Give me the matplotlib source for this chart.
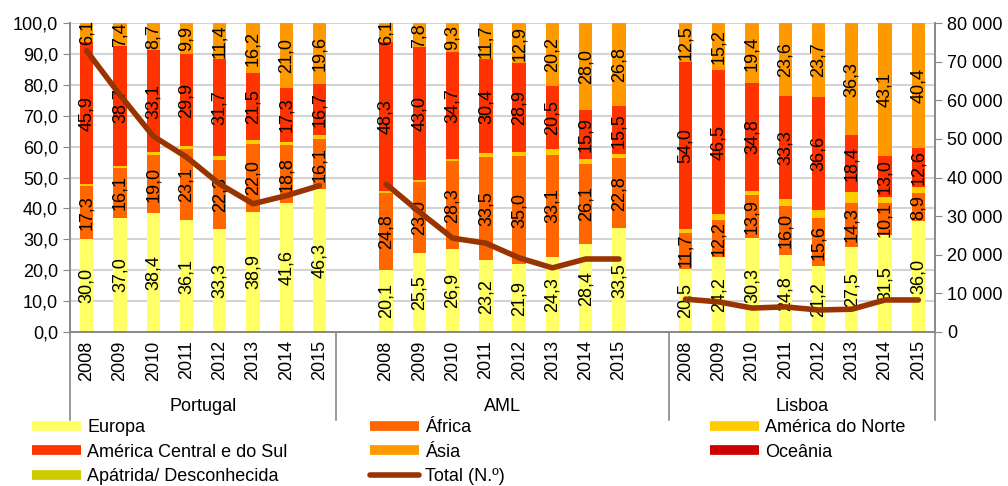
import matplotlib
matplotlib.use("Agg")
import matplotlib.pyplot as plt
from matplotlib.lines import Line2D
from matplotlib.ticker import FuncFormatter, MultipleLocator
import numpy as np

plt.rcParams['font.family'] = ['Liberation Sans', 'DejaVu Sans']

groups = ['Portugal', 'AML', 'Lisboa']
years = ['2008', '2009', '2010', '2011', '2012', '2013', '2014', '2015']

# Percentages per group (8 years each)
europa = {
    'Portugal': [30.0, 37.0, 38.4, 36.1, 33.3, 38.9, 41.6, 46.3],
    'AML':      [20.1, 25.5, 26.9, 23.2, 21.9, 24.3, 28.4, 33.5],
    'Lisboa':   [20.5, 24.2, 30.3, 24.8, 21.2, 27.5, 31.5, 36.0],
}
africa = {
    'Portugal': [17.3, 16.1, 19.0, 23.1, 22.3, 22.0, 18.8, 16.1],
    'AML':      [24.8, 23.0, 28.3, 33.5, 35.0, 33.1, 26.1, 22.8],
    'Lisboa':   [11.7, 12.2, 13.9, 16.0, 15.6, 14.3, 10.1, 8.9],
}
america_norte = {
    'Portugal': [0.6, 0.7, 0.7, 0.9, 1.2, 1.3, 1.2, 1.2],
    'AML':      [0.6, 0.6, 0.7, 1.1, 1.2, 1.8, 1.5, 1.3],
    'Lisboa':   [1.2, 1.8, 1.5, 2.2, 2.8, 3.4, 2.2, 2.0],
}
america_cs = {
    'Portugal': [45.9, 38.7, 33.1, 29.9, 31.7, 21.5, 17.3, 16.7],
    'AML':      [48.3, 43.0, 34.7, 30.4, 28.9, 20.5, 15.9, 15.5],
    'Lisboa':   [54.0, 46.5, 34.8, 33.3, 36.6, 18.4, 13.0, 12.6],
}
asia = {
    'Portugal': [6.1, 7.4, 8.7, 9.9, 11.4, 16.2, 21.0, 19.6],
    'AML':      [6.1, 7.8, 9.3, 11.7, 12.9, 20.2, 28.0, 26.8],
    'Lisboa':   [12.5, 15.2, 19.4, 23.6, 23.7, 36.3, 43.1, 40.4],
}
oceania = {
    'Portugal': [0.1, 0.1, 0.1, 0.1, 0.1, 0.1, 0.1, 0.1],
    'AML':      [0.1, 0.1, 0.1, 0.1, 0.1, 0.1, 0.1, 0.1],
    'Lisboa':   [0.1, 0.1, 0.1, 0.1, 0.1, 0.1, 0.1, 0.1],
}
apatrida = {
    'Portugal': [0.0, 0.0, 0.0, 0.0, 0.0, 0.0, 0.0, 0.0],
    'AML':      [0.0, 0.0, 0.0, 0.0, 0.0, 0.0, 0.0, 0.0],
    'Lisboa':   [0.0, 0.0, 0.0, 0.0, 0.0, 0.0, 0.0, 0.0],
}
total = {
    'Portugal': [72800, 61400, 50700, 45300, 38300, 33200, 35300, 37900],
    'AML':      [38300, 31100, 24300, 23000, 19200, 16600, 18900, 18900],
    'Lisboa':   [8500, 7800, 6200, 6500, 5700, 5900, 8300, 8300],
}

series = [
    ('Europa', europa, '#FFFF66', True),
    ('África', africa, '#FF6600', True),
    ('América do Norte', america_norte, '#FFCC00', False),
    ('América Central e do Sul', america_cs, '#FF3300', True),
    ('Ásia', asia, '#FF9900', True),
    ('Oceânia', oceania, '#CC0000', False),
    ('Apátrida/ Desconhecida', apatrida, '#CCCC00', False),
]
line_color = '#993300'

# layout: slot positions of each group's bars
group_start = {'Portugal': 0, 'AML': 9, 'Lisboa': 18}
group_center = {'Portugal': 3.5, 'AML': 12.5, 'Lisboa': 21.5}
separators = [-0.5, 7.5, 17.5, 25.5]

fig = plt.figure(figsize=(10.08, 4.86), dpi=100)
ax = fig.add_axes([70/1008, 1-332/486, 865/1008, 309/486])
ax2 = ax.twinx()

FS = 13
width = 0.4
for g in groups:
    x = np.arange(8) + group_start[g]
    bottom = np.zeros(8)
    for name, d, col, lab in series:
        vals = np.array(d[g])
        ax.bar(x, vals, width, bottom=bottom, color=col, zorder=2, linewidth=0)
        if lab:
            for xi, b, v in zip(x, bottom, vals):
                ax.text(xi, b + v/2, f"{v:.1f}".replace('.', ','), rotation=90,
                        ha='center', va='center', fontsize=FS, zorder=3)
        bottom += vals
    ax2.plot(x, total[g], color=line_color, lw=4, solid_capstyle='round', zorder=4)

ax.set_xlim(-0.5, 25.5)
ax.set_ylim(0, 100)
ax2.set_ylim(0, 80000)
ax.yaxis.set_major_locator(MultipleLocator(10))
ax2.yaxis.set_major_locator(MultipleLocator(10000))
ax.yaxis.set_major_formatter(FuncFormatter(lambda v, p: f"{v:.1f}".replace('.', ',')))
ax2.yaxis.set_major_formatter(FuncFormatter(lambda v, p: f"{int(v):,}".replace(',', ' ')))
ax.grid(axis='y', color='#D4D4D4', lw=1.5, zorder=0)
ax.set_axisbelow(True)

xt = []
xl = []
for g in groups:
    for i, y in enumerate(years):
        xt.append(group_start[g] + i)
        xl.append(y)
ax.set_xticks(xt)
ax.set_xticklabels(xl, rotation=90, fontsize=FS)
ax.tick_params(axis='x', length=0, pad=6)
ax.tick_params(axis='y', labelsize=FS, length=5, color='#888888', direction='out')
ax2.tick_params(axis='y', labelsize=FS, length=5, color='#888888', direction='out')

for a in (ax, ax2):
    a.spines['top'].set_visible(False)
    for s in ('left', 'right', 'bottom'):
        a.spines[s].set_color('#888888')
        a.spines[s].set_linewidth(1.2)

for s in separators:
    ax.plot([s, s], [0, -0.285], transform=ax.get_xaxis_transform(), color='#888888',
            lw=1.2, clip_on=False)
for g in groups:
    ax.text(group_center[g], -0.24, g, transform=ax.get_xaxis_transform(),
            ha='center', va='center', fontsize=FS)

# legend in three fixed columns
def h(col, total_line=False):
    if total_line:
        return Line2D([0], [0], color=col, lw=4, solid_capstyle='round')
    return Line2D([0], [0], color=col, lw=7, solid_capstyle='butt')

cols = [
    [(series[0][0], h(series[0][2])), (series[3][0], h(series[3][2])), (series[6][0], h(series[6][2]))],
    [(series[1][0], h(series[1][2])), (series[4][0], h(series[4][2])), ('Total (N.º)', h(line_color, True))],
    [(series[2][0], h(series[2][2])), (series[5][0], h(series[5][2]))],
]
xs = [32/1008, 370/1008, 710/1008]
for x0, c in zip(xs, cols):
    fig.legend([e[1] for e in c], [e[0] for e in c], loc='upper left',
               bbox_to_anchor=(x0, 1-419/486), frameon=False, fontsize=FS,
               handlelength=2.7, handletextpad=0.35, labelspacing=0.42,
               borderpad=0, borderaxespad=0)

fig.savefig('out.png', dpi=100)
